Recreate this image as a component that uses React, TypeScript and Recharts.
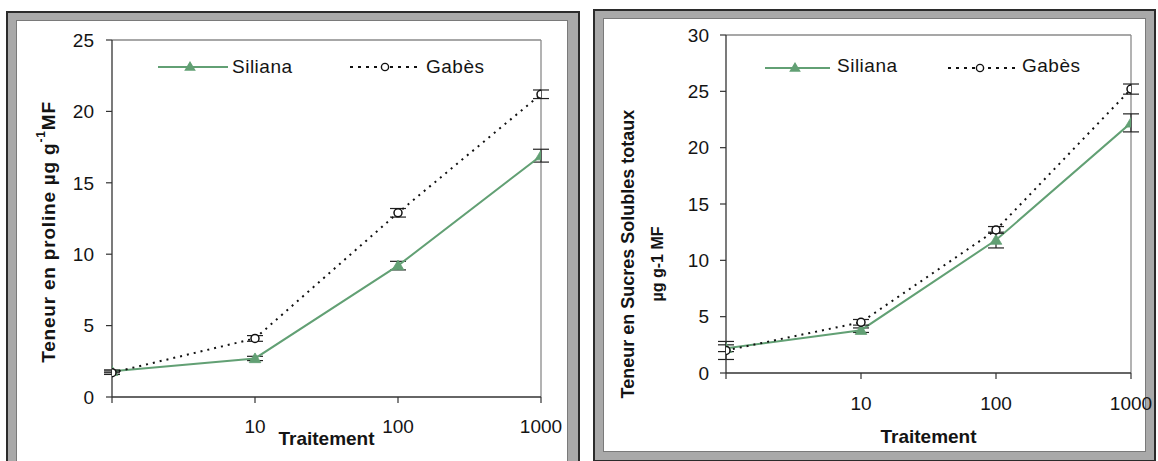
import React from 'react';
import { LineChart, Line, XAxis, YAxis, ErrorBar, ReferenceLine, Legend } from 'recharts';

// ---------- data ----------
const treatments = [1, 10, 100, 1000];
const xTicks = [1, 10, 100, 1000];
const seriesNames = ['Siliana', 'Gabès'];
const xTitle = 'Traitement';

const prolineTicks = [0, 5, 10, 15, 20, 25];
const prolineSiliana = [1.8, 2.7, 9.2, 16.9];
const prolineSilianaErr = [0.1, 0.15, 0.3, 0.45];
const prolineGabes = [1.7, 4.1, 12.9, 21.2];
const prolineGabesErr = [0.12, 0.2, 0.3, 0.3];

const sucresTicks = [0, 5, 10, 15, 20, 25, 30];
const sucresSiliana = [2.2, 3.8, 11.8, 22.2];
const sucresSilianaErr = [0.3, 0.2, 0.7, 0.8];
const sucresGabes = [2.0, 4.5, 12.7, 25.2];
const sucresGabesErr = [0.8, 0.25, 0.3, 0.45];

const buildRows = (s: number[], sErr: number[], g: number[], gErr: number[]) =>
  treatments.map((t, i) => ({ t, s: s[i], sErr: sErr[i], g: g[i], gErr: gErr[i] }));

const prolineRows = buildRows(prolineSiliana, prolineSilianaErr, prolineGabes, prolineGabesErr);
const sucresRows = buildRows(sucresSiliana, sucresSilianaErr, sucresGabes, sucresGabesErr);

// ---------- styles ----------
const FONT = '"Liberation Sans", Arial, Helvetica, sans-serif';
const GREEN = '#62a074';
const INK = '#141414';
const AXIS = '#333333';

const triPath = (cx: number, cy: number) =>
  `M${cx},${cy - 5.5} L${cx + 5.8},${cy + 4.2} L${cx - 5.8},${cy + 4.2} Z`;

const TriangleDot = (props: any) => {
  const { cx, cy } = props;
  if (cx == null || cy == null) return <g />;
  return <path d={triPath(cx, cy)} fill={GREEN} stroke={GREEN} strokeWidth={0.8} />;
};

const CircleDot = (props: any) => {
  const { cx, cy } = props;
  if (cx == null || cy == null) return <g />;
  return <circle cx={cx} cy={cy} r={4} fill="#ffffff" stroke="#111" strokeWidth={1.5} strokeDasharray="none" />;
};

type LegendCfg = {
  y: number;
  textY: number;
  l1: [number, number];
  tri: number;
  t1: number;
  l2: [number, number];
  circ: number;
  t2: number;
};

const makeLegend = (w: number, L: LegendCfg) => (props: any) => {
  const payload: any[] = props.payload || [];
  const nameOf = (key: string, fallback: string) => {
    const item = payload.find((p) => p.dataKey === key);
    return item && item.value ? item.value : fallback;
  };
  const textProps = {
    fontFamily: FONT,
    fontSize: 19,
    letterSpacing: 0.5,
    fill: INK,
    dominantBaseline: 'central' as const,
  };
  return (
    <svg width={w} height={100} style={{ display: 'block', overflow: 'visible' }}>
      <line x1={L.l1[0]} x2={L.l1[1]} y1={L.y} y2={L.y} stroke={GREEN} strokeWidth={2} />
      <path d={triPath(L.tri, L.y - 0.5)} fill={GREEN} />
      <text x={L.t1} y={L.textY} {...textProps}>{nameOf('s', seriesNames[0])}</text>
      <line x1={L.l2[0]} x2={L.l2[1]} y1={L.y} y2={L.y} stroke="#111" strokeWidth={2} strokeDasharray="3 5" />
      <circle cx={L.circ} cy={L.y} r={3.6} fill="#fff" stroke="#111" strokeWidth={1.4} />
      <text x={L.t2} y={L.textY} {...textProps}>{nameOf('g', seriesNames[1])}</text>
    </svg>
  );
};

const xTitleLabel = (dy: number) => (props: any) => {
  const vb = props.viewBox || { x: 0, y: 0, width: 0 };
  return (
    <text
      x={vb.x + vb.width / 2}
      y={vb.y + dy}
      textAnchor="middle"
      fontFamily={FONT}
      fontSize={19}
      fontWeight="bold"
      fill={INK}
    >
      {xTitle}
    </text>
  );
};

const prolineYTitle = () => (
  <text
    transform="translate(48,232) rotate(-90)"
    textAnchor="middle"
    dominantBaseline="central"
    fontFamily={FONT}
    fontSize={19}
    fontWeight="bold"
    letterSpacing={0.8}
    fill={INK}
  >
    Teneur en proline µg g
    <tspan dy={-7} fontSize={12}>-1</tspan>
    <tspan dy={7}>MF</tspan>
  </text>
);

const sucresYTitle = () => (
  <g>
    <text
      transform="translate(48,254) rotate(-90)"
      textAnchor="middle"
      dominantBaseline="central"
      fontFamily={FONT}
      fontSize={18}
      fontWeight="bold"
      fill={INK}
    >
      Teneur en Sucres Solubles totaux
    </text>
    <text
      transform="translate(77,264) rotate(-90)"
      textAnchor="middle"
      dominantBaseline="central"
      fontFamily={FONT}
      fontSize={16}
      fontWeight="bold"
      fill={INK}
    >
      µg g-1 MF
    </text>
  </g>
);

type PanelChartProps = {
  rows: any[];
  width: number;
  height: number;
  margin: { top: number; right: number; bottom: number; left: number };
  yMax: number;
  yTicks: number[];
  yTickMargin: number;
  xTickMargin: number;
  xTitleDy: number;
  yTitle: (p: any) => any;
  legend: LegendCfg;
};

const PanelChart = (p: PanelChartProps) => {
  const tickStyle = { fontFamily: FONT, fontSize: 19, fill: INK };
  return (
    <LineChart width={p.width} height={p.height} data={p.rows} margin={p.margin}>
      <XAxis
        dataKey="t"
        type="number"
        scale="log"
        domain={[1, 1000]}
        ticks={xTicks}
        interval={0}
        allowDataOverflow
        tickFormatter={(v: number) => (v === 1 ? '' : String(v))}
        height={60}
        tick={tickStyle}
        tickSize={6}
        tickMargin={p.xTickMargin}
        stroke={AXIS}
        axisLine={{ stroke: AXIS, strokeWidth: 1.3 }}
        tickLine={{ stroke: AXIS, strokeWidth: 1.2 }}
        label={xTitleLabel(p.xTitleDy)}
      />
      <YAxis
        type="number"
        domain={[0, p.yMax]}
        ticks={p.yTicks}
        interval={0}
        width={60}
        tick={tickStyle}
        tickSize={6}
        tickMargin={p.yTickMargin}
        stroke={AXIS}
        axisLine={{ stroke: AXIS, strokeWidth: 1.3 }}
        tickLine={{ stroke: AXIS, strokeWidth: 1.2 }}
        label={p.yTitle}
      />
      <ReferenceLine y={p.yMax} stroke="#8a8a8a" strokeWidth={1.3} />
      <ReferenceLine x={1000} stroke="#8a8a8a" strokeWidth={1.3} />
      <Legend
        layout="horizontal"
        verticalAlign="middle"
        align="center"
        wrapperStyle={{ position: 'absolute', left: 0, top: 0, width: p.width, height: 100, margin: 0 }}
        content={makeLegend(p.width, p.legend)}
      />
      <Line
        dataKey="s"
        name={seriesNames[0]}
        type="linear"
        stroke={GREEN}
        strokeWidth={2}
        dot={(d: any) => <TriangleDot key={`s-${d.index}`} {...d} />}
        activeDot={false}
        isAnimationActive={false}
      >
        <ErrorBar dataKey="sErr" width={8} stroke="#222" strokeWidth={1.2} direction="y" isAnimationActive={false} />
      </Line>
      <Line
        dataKey="g"
        name={seriesNames[1]}
        type="linear"
        stroke="#111"
        strokeWidth={2}
        strokeDasharray="2 5"
        dot={(d: any) => <CircleDot key={`g-${d.index}`} {...d} />}
        activeDot={false}
        isAnimationActive={false}
      >
        <ErrorBar dataKey="gErr" width={8} stroke="#222" strokeWidth={1.2} direction="y" isAnimationActive={false} />
      </Line>
    </LineChart>
  );
};

const abs = (s: React.CSSProperties): React.CSSProperties => ({ position: 'absolute', boxSizing: 'border-box', ...s });

export default function App() {
  return (
    <div style={abs({ left: 0, top: 0, width: 1158, height: 461, overflow: 'hidden', background: '#fff' })}>
      {/* left panel frame */}
      <div style={abs({ left: 6, top: 11, width: 574, height: 470, background: '#a9a9a9', border: '2px solid #2b2b2b' })}>
        <div style={abs({ left: 8, top: 7, right: 10, bottom: -20, background: '#fff', border: '1px solid #7a7a7a' })} />
      </div>
      {/* right panel frame */}
      <div style={abs({ left: 593, top: 9, width: 563, height: 453, background: '#a9a9a9', border: '2px solid #2b2b2b' })}>
        <div style={abs({ left: 8, top: 7, right: 8, bottom: 8, background: '#fff', border: '1px solid #7a7a7a' })} />
      </div>

      <div style={abs({ left: 0, top: 0 })}>
        <PanelChart
          rows={prolineRows}
          width={580}
          height={461}
          margin={{ top: 40, right: 39, bottom: 4, left: 52 }}
          yMax={25}
          yTicks={prolineTicks}
          yTickMargin={12}
          xTickMargin={17}
          xTitleDy={48}
          yTitle={prolineYTitle}
          legend={{ y: 67, textY: 66, l1: [158, 228], tri: 190, t1: 232, l2: [350, 422], circ: 385, t2: 426 }}
        />
      </div>
      <div style={abs({ left: 580, top: 0 })}>
        <PanelChart
          rows={sucresRows}
          width={578}
          height={461}
          margin={{ top: 35, right: 27, bottom: 28, left: 86 }}
          yMax={30}
          yTicks={sucresTicks}
          yTickMargin={11}
          xTickMargin={18}
          xTitleDy={70}
          yTitle={sucresYTitle}
          legend={{ y: 68, textY: 65, l1: [185, 250], tri: 215, t1: 257, l2: [368, 438], circ: 400, t2: 442 }}
        />
      </div>
    </div>
  );
}
